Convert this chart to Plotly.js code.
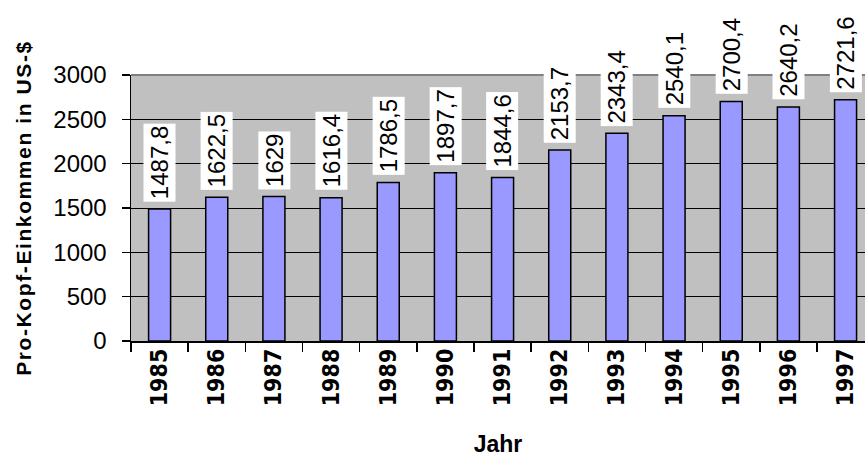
<!DOCTYPE html>
<html>
<head>
<meta charset="utf-8">
<script src="https://cdn.plot.ly/plotly-3.0.1.min.js"></script>
<style>
  html, body { margin: 0; padding: 0; background: #ffffff; overflow: hidden; }
  #chart { width: 865px; height: 459px; }
  .ytitle { letter-spacing: 1.6px; }
</style>
</head>
<body>
<div id="chart"></div>
<script>
const years = ["1985", "1986", "1987", "1988", "1989", "1990", "1991", "1992", "1993", "1994", "1995", "1996", "1997"];
const income = [1487.8, 1622.5, 1629, 1616.4, 1786.5, 1897.7, 1844.6, 2153.7, 2343.4, 2540.1, 2700.4, 2640.2, 2721.6];
const yTicks = [0, 500, 1000, 1500, 2000, 2500, 3000];
const xTitle = "Jahr";
const yTitle = "Pro-Kopf-Einkommen in US-$";

const labelText = income.map(v => String(v).replace('.', ','));

const trace = {
  type: 'bar',
  x: years,
  y: income,
  width: 0.385,
  marker: { color: '#9999FF', line: { color: '#000000', width: 1.5 } },
  hoverinfo: 'none'
};

const annotations = years.map((yr, i) => ({
  x: i,
  y: income[i],
  xref: 'x',
  yref: 'y',
  text: labelText[i],
  showarrow: false,
  textangle: -90,
  xanchor: 'center',
  yanchor: 'bottom',
  yshift: 7,
  bgcolor: '#ffffff',
  borderpad: 2,
  font: { family: 'Arial, "Liberation Sans", sans-serif', size: 24, color: '#000000' }
}));

const layout = {
  width: 865,
  height: 459,
  margin: { l: 131, r: 0, t: 75, b: 118, pad: 0 },
  paper_bgcolor: '#ffffff',
  plot_bgcolor: '#C0C0C0',
  showlegend: false,
  xaxis: {
    type: 'category',
    range: [-0.5, 12.34],
    tickson: 'boundaries',
    ticks: 'outside',
    ticklen: 9,
    tickwidth: 1.5,
    tickcolor: '#000000',
    tickangle: -90,
    ticklabelstandoff: -3,
    showline: true,
    linecolor: '#000000',
    linewidth: 1.5,
    showgrid: false,
    zeroline: false,
    fixedrange: true,
    tickfont: { family: '"DejaVu Sans Condensed", "Liberation Sans Narrow", sans-serif', size: 23, weight: 'bold', color: '#000000' },
    title: {
      text: xTitle,
      standoff: 30,
      font: { family: 'Arial, "Liberation Sans", sans-serif', size: 23, weight: 'bold', color: '#000000' }
    }
  },
  yaxis: {
    range: [0, 3000],
    tickvals: yTicks,
    ticks: 'outside',
    ticklen: 8,
    tickwidth: 1.5,
    tickcolor: '#000000',
    ticklabelstandoff: 10,
    showline: true,
    linecolor: '#000000',
    linewidth: 1.5,
    showgrid: true,
    gridcolor: '#000000',
    gridwidth: 1,
    zeroline: false,
    fixedrange: true,
    tickfont: { family: 'Arial, "Liberation Sans", sans-serif', size: 24, color: '#000000' },
    title: {
      text: yTitle,
      standoff: 16,
      font: { family: 'Arial, "Liberation Sans", sans-serif', size: 21, weight: 'bold', color: '#000000' }
    }
  },
  shapes: [{
    type: 'line', xref: 'paper', yref: 'paper',
    x0: 0, x1: 1, y0: 1, y1: 1,
    line: { color: '#808080', width: 2 },
    layer: 'above'
  }],
  annotations: annotations
};

Plotly.newPlot('chart', [trace], layout, { displayModeBar: false, staticPlot: true });
</script>
</body>
</html>
